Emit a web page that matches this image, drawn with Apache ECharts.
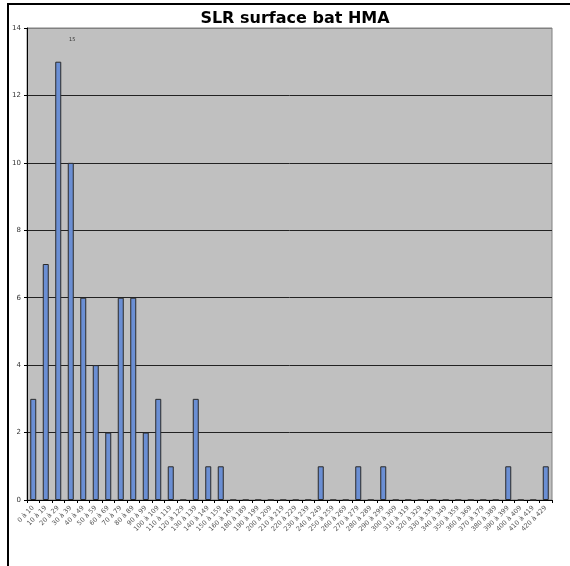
<!DOCTYPE html>
<html>
<head>
<meta charset="utf-8">
<script src="https://cdn.jsdelivr.net/npm/echarts@6/dist/echarts.min.js"></script>
<style>
  html, body { margin: 0; padding: 0; background: #fff; }
  #chart { width: 570px; height: 566px; }
</style>
</head>
<body>
<div id="chart"></div>
<script>
// classes de surface (170 à 179 absente dans l'original)
const categories = [
    '0 à 10', '10 à 19', '20 à 29', '30 à 39', '40 à 49', '50 à 59', '60 à 69',
    '70 à 79', '80 à 89', '90 à 99', '100 à 109', '110 à 119', '120 à 129',
    '130 à 139', '140 à 149', '150 à 159', '160 à 169', '180 à 189', '190 à 199',
    '200 à 209', '210 à 219', '220 à 229', '230 à 239', '240 à 249', '250 à 259',
    '260 à 269', '270 à 279', '280 à 289', '290 à 299', '300 à 309', '310 à 319',
    '320 à 329', '330 à 339', '340 à 349', '350 à 359', '360 à 369', '370 à 379',
    '380 à 389', '390 à 399', '400 à 409', '410 à 419', '420 à 429'
];

// nombre de bâtiments par classe
const counts = [
    3, 7, 13, 10, 6, 4, 2, 6, 6, 2, 3, 1, 0, 3, 1, 1,
    0, 0, 0, 0, 0, 0, 0, 1, 0, 0, 1, 0, 1, 0, 0, 0,
    0, 0, 0, 0, 0, 0, 1, 0, 0, 1
];

const yTicks = { min: 0, max: 14, interval: 2 };

const chart = echarts.init(document.getElementById('chart'));
chart.setOption({
    animation: false,
    backgroundColor: '#fff',
    title: {
        text: 'SLR surface bat HMA',
        left: 290,
        textAlign: 'center',
        top: 6,
        textStyle: { fontFamily: 'DejaVu Sans', fontWeight: 'bold', fontSize: 16, color: '#000' }
    },
    grid: {
        left: 27, right: 18, top: 28, bottom: 66,
        show: true,
        backgroundColor: '#c0c0c0',
        borderColor: '#808080',
        borderWidth: 1
    },
    xAxis: {
        type: 'category',
        data: categories,
        axisLine: { lineStyle: { color: '#000', width: 1 } },
        axisTick: { show: true, length: 3, lineStyle: { color: '#000' } },
        axisLabel: {
            interval: 0,
            rotate: 45,
            margin: 7,
            fontSize: 6.5,
            fontFamily: 'DejaVu Sans',
            color: '#555'
        }
    },
    yAxis: {
        type: 'value',
        min: yTicks.min,
        max: yTicks.max,
        interval: yTicks.interval,
        axisLine: { show: true, lineStyle: { color: '#000', width: 1 } },
        axisTick: { show: true, length: 3, lineStyle: { color: '#000' } },
        axisLabel: { fontSize: 7, fontFamily: 'DejaVu Sans', color: '#333', margin: 6 },
        splitLine: {
            lineStyle: {
                color: ['#000', '#222', '#222', '#222', '#222', '#222', '#222', '#808080'],
                width: 1
            }
        }
    },
    series: [{
        type: 'bar',
        data: counts,
        barWidth: 6,
        itemStyle: { color: '#6b8fd4', borderColor: '#2a2a2a', borderWidth: 1 }
    }],
    graphic: [
        { type: 'text', left: 69, top: 37, style: { text: '15', fontSize: 5, fill: '#333', fontFamily: 'DejaVu Sans' } },
        { type: 'line', shape: { x1: 8, y1: 4, x2: 8, y2: 566 }, style: { stroke: '#000', lineWidth: 2 } },
        { type: 'line', shape: { x1: 7, y1: 4, x2: 570, y2: 4 }, style: { stroke: '#000', lineWidth: 2 } }
    ]
});
</script>
</body>
</html>
